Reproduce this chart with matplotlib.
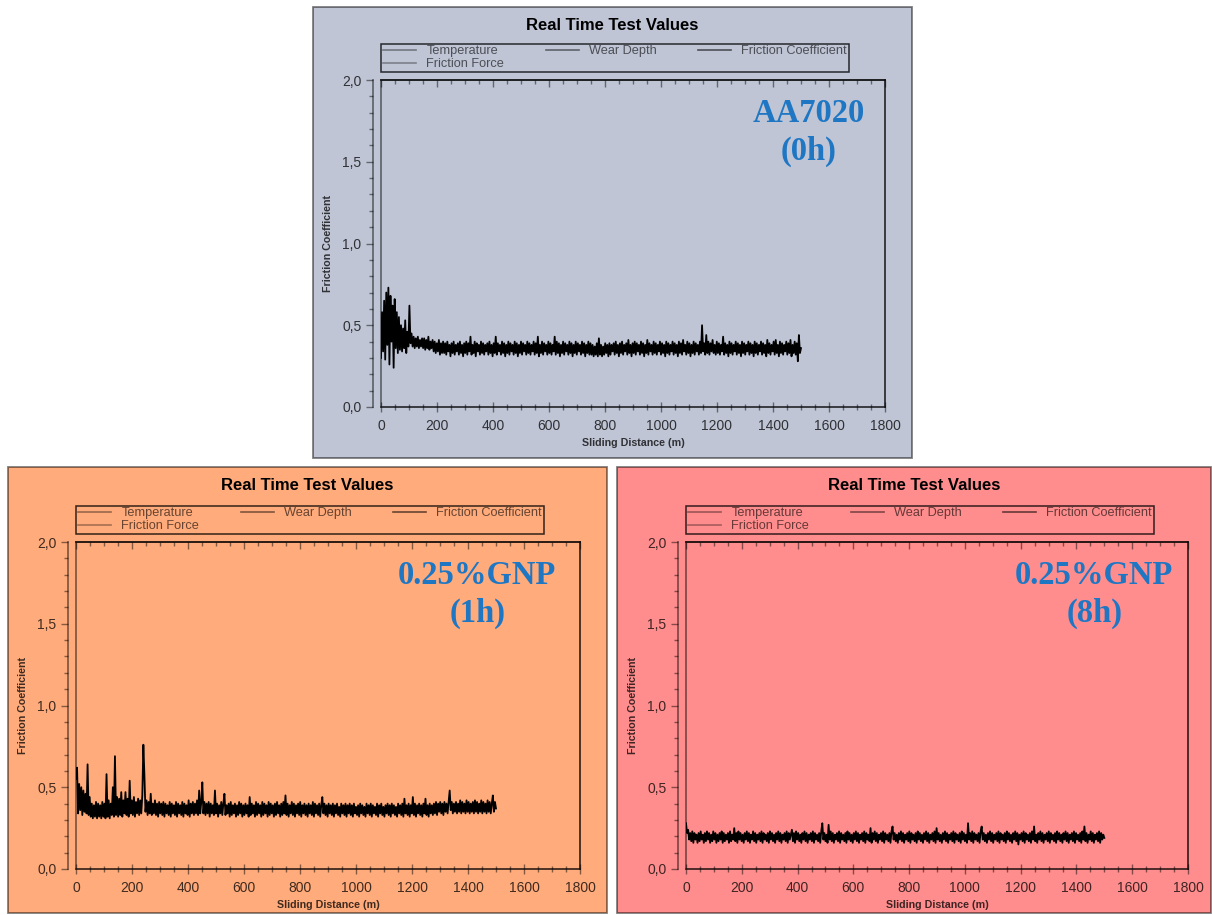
import matplotlib
matplotlib.use('Agg')
import matplotlib.pyplot as plt
from matplotlib.lines import Line2D
from matplotlib.patches import Rectangle
from matplotlib.ticker import MultipleLocator
import numpy as np

plt.rcParams['font.family'] = ['Liberation Sans', 'DejaVu Sans']

W, H = 1212, 915

x_ticks = [0, 200, 400, 600, 800, 1000, 1200, 1400, 1600, 1800]
y_ticks = [0.0, 0.5, 1.0, 1.5, 2.0]
y_tick_labels = ['0,0', '0,5', '1,0', '1,5', '2,0']
legend_labels = ['Temperature', 'Friction Force', 'Wear Depth', 'Friction Coefficient']
legend_greys = [(0, 0, 0, 0.4), (0, 0, 0, 0.35), (0, 0, 0, 0.5), (0, 0, 0, 0.6)]
panel_names = ['AA7020\n(0h)', '0.25%GNP\n(1h)', '0.25%GNP\n(8h)']
panel_colors = ['#bfc5d5', '#ffab7b', '#ff8d8d']
test_length = 1500  # m

# friction coefficient (equal steps of sliding distance)
cof_aa7020 = [
    0.30, 0.58, 0.34, 0.65, 0.29, 0.70, 0.38, 0.73, 0.26, 0.68, 0.40, 0.62, 0.24, 0.66, 0.36, 0.58, 0.33, 0.55, 0.35, 0.50,
    0.34, 0.48, 0.36, 0.53, 0.33, 0.46, 0.37, 0.62, 0.39, 0.45, 0.37, 0.43, 0.36, 0.42, 0.37, 0.43, 0.36, 0.41, 0.37, 0.42,
    0.36, 0.42, 0.35, 0.41, 0.36, 0.43, 0.35, 0.40, 0.36, 0.41, 0.34, 0.40, 0.33, 0.39, 0.34, 0.41, 0.32, 0.39, 0.33, 0.40,
    0.33, 0.39, 0.32, 0.40, 0.34, 0.38, 0.31, 0.39, 0.33, 0.40, 0.32, 0.38, 0.34, 0.39, 0.32, 0.40, 0.33, 0.38, 0.31, 0.39,
    0.33, 0.40, 0.32, 0.39, 0.34, 0.43, 0.32, 0.38, 0.33, 0.40, 0.31, 0.39, 0.34, 0.38, 0.32, 0.40, 0.33, 0.39, 0.32, 0.38,
    0.34, 0.39, 0.32, 0.40, 0.33, 0.38, 0.31, 0.39, 0.33, 0.43, 0.32, 0.39, 0.34, 0.38, 0.32, 0.40, 0.33, 0.39, 0.31, 0.38,
    0.33, 0.40, 0.32, 0.39, 0.34, 0.38, 0.32, 0.40, 0.33, 0.39, 0.31, 0.38, 0.33, 0.40, 0.32, 0.39, 0.34, 0.38, 0.32, 0.40,
    0.33, 0.39, 0.32, 0.38, 0.34, 0.40, 0.32, 0.39, 0.33, 0.43, 0.31, 0.38, 0.33, 0.40, 0.32, 0.39, 0.34, 0.38, 0.32, 0.40,
    0.33, 0.39, 0.32, 0.38, 0.34, 0.43, 0.32, 0.40, 0.33, 0.39, 0.31, 0.38, 0.33, 0.40, 0.32, 0.39, 0.34, 0.38, 0.32, 0.40,
    0.33, 0.39, 0.31, 0.38, 0.33, 0.40, 0.32, 0.39, 0.34, 0.38, 0.32, 0.40, 0.33, 0.39, 0.31, 0.38, 0.33, 0.40, 0.32, 0.39,
    0.32, 0.38, 0.31, 0.37, 0.32, 0.39, 0.31, 0.42, 0.32, 0.38, 0.31, 0.37, 0.32, 0.39, 0.33, 0.38, 0.31, 0.39, 0.32, 0.38,
    0.34, 0.39, 0.32, 0.40, 0.33, 0.38, 0.31, 0.39, 0.33, 0.40, 0.32, 0.38, 0.34, 0.39, 0.32, 0.41, 0.33, 0.38, 0.31, 0.39,
    0.33, 0.40, 0.32, 0.39, 0.34, 0.38, 0.32, 0.40, 0.33, 0.39, 0.31, 0.38, 0.33, 0.41, 0.32, 0.39, 0.34, 0.38, 0.32, 0.40,
    0.33, 0.39, 0.32, 0.38, 0.34, 0.40, 0.32, 0.39, 0.33, 0.38, 0.31, 0.40, 0.33, 0.39, 0.32, 0.38, 0.34, 0.40, 0.32, 0.39,
    0.33, 0.38, 0.31, 0.40, 0.33, 0.39, 0.32, 0.41, 0.34, 0.38, 0.32, 0.40, 0.33, 0.39, 0.31, 0.38, 0.33, 0.40, 0.32, 0.39,
    0.34, 0.38, 0.32, 0.40, 0.33, 0.50, 0.34, 0.39, 0.32, 0.44, 0.33, 0.40, 0.32, 0.39, 0.34, 0.41, 0.33, 0.38, 0.32, 0.40,
    0.33, 0.39, 0.32, 0.38, 0.34, 0.43, 0.32, 0.39, 0.33, 0.38, 0.31, 0.40, 0.33, 0.39, 0.32, 0.38, 0.34, 0.40, 0.32, 0.39,
    0.33, 0.38, 0.31, 0.40, 0.33, 0.39, 0.32, 0.38, 0.34, 0.40, 0.32, 0.39, 0.33, 0.38, 0.31, 0.40, 0.33, 0.39, 0.32, 0.38,
    0.34, 0.40, 0.32, 0.39, 0.33, 0.38, 0.31, 0.41, 0.33, 0.39, 0.32, 0.38, 0.34, 0.40, 0.32, 0.41, 0.33, 0.38, 0.31, 0.40,
    0.33, 0.39, 0.32, 0.38, 0.34, 0.40, 0.32, 0.39, 0.33, 0.41, 0.31, 0.38, 0.33, 0.40, 0.32, 0.39, 0.28, 0.44, 0.33, 0.36,
]

cof_gnp_1h = [
    0.55, 0.62, 0.34, 0.52, 0.36, 0.50, 0.33, 0.48, 0.35, 0.46, 0.34, 0.64, 0.33, 0.44, 0.32, 0.40, 0.31, 0.39, 0.32, 0.41,
    0.31, 0.40, 0.32, 0.39, 0.31, 0.41, 0.32, 0.40, 0.31, 0.58, 0.32, 0.42, 0.31, 0.40, 0.33, 0.50, 0.32, 0.69, 0.33, 0.44,
    0.32, 0.43, 0.33, 0.47, 0.32, 0.42, 0.34, 0.47, 0.33, 0.43, 0.32, 0.54, 0.34, 0.42, 0.33, 0.44, 0.32, 0.41, 0.34, 0.43,
    0.33, 0.42, 0.34, 0.45, 0.76, 0.57, 0.35, 0.42, 0.33, 0.41, 0.34, 0.46, 0.33, 0.40, 0.34, 0.42, 0.33, 0.40, 0.32, 0.41,
    0.34, 0.40, 0.33, 0.41, 0.32, 0.40, 0.34, 0.39, 0.33, 0.41, 0.32, 0.40, 0.34, 0.39, 0.33, 0.41, 0.32, 0.40, 0.34, 0.39,
    0.33, 0.41, 0.32, 0.40, 0.34, 0.39, 0.33, 0.42, 0.32, 0.40, 0.34, 0.41, 0.33, 0.40, 0.34, 0.42, 0.33, 0.48, 0.34, 0.41,
    0.53, 0.34, 0.41, 0.33, 0.40, 0.34, 0.41, 0.32, 0.40, 0.34, 0.39, 0.33, 0.48, 0.34, 0.40, 0.32, 0.39, 0.34, 0.41, 0.33,
    0.40, 0.46, 0.33, 0.39, 0.34, 0.40, 0.32, 0.41, 0.33, 0.39, 0.34, 0.40, 0.32, 0.39, 0.33, 0.41, 0.34, 0.40, 0.32, 0.39,
    0.33, 0.40, 0.34, 0.39, 0.32, 0.44, 0.33, 0.40, 0.34, 0.39, 0.32, 0.41, 0.33, 0.40, 0.34, 0.39, 0.32, 0.41, 0.33, 0.40,
    0.34, 0.39, 0.32, 0.41, 0.33, 0.40, 0.34, 0.39, 0.32, 0.40, 0.33, 0.41, 0.34, 0.39, 0.32, 0.40, 0.33, 0.41, 0.34, 0.45,
    0.33, 0.40, 0.32, 0.39, 0.34, 0.41, 0.33, 0.40, 0.32, 0.39, 0.34, 0.40, 0.33, 0.41, 0.32, 0.39, 0.34, 0.40, 0.33, 0.39,
    0.32, 0.40, 0.34, 0.39, 0.33, 0.41, 0.32, 0.40, 0.34, 0.39, 0.33, 0.40, 0.32, 0.39, 0.44, 0.34, 0.40, 0.33, 0.39, 0.32,
    0.40, 0.34, 0.39, 0.33, 0.40, 0.32, 0.39, 0.34, 0.40, 0.33, 0.38, 0.32, 0.40, 0.34, 0.39, 0.33, 0.40, 0.32, 0.39, 0.34,
    0.40, 0.33, 0.39, 0.32, 0.40, 0.34, 0.38, 0.33, 0.39, 0.32, 0.40, 0.34, 0.39, 0.33, 0.38, 0.32, 0.40, 0.34, 0.39, 0.33,
    0.40, 0.32, 0.39, 0.34, 0.38, 0.33, 0.40, 0.32, 0.39, 0.34, 0.40, 0.33, 0.38, 0.32, 0.39, 0.34, 0.40, 0.33, 0.39, 0.32,
    0.40, 0.34, 0.39, 0.33, 0.38, 0.32, 0.40, 0.34, 0.39, 0.33, 0.40, 0.32, 0.43, 0.34, 0.39, 0.33, 0.40, 0.32, 0.39, 0.34,
    0.44, 0.33, 0.40, 0.32, 0.39, 0.34, 0.40, 0.33, 0.39, 0.32, 0.40, 0.34, 0.43, 0.33, 0.39, 0.32, 0.40, 0.34, 0.39, 0.33,
    0.40, 0.34, 0.41, 0.33, 0.40, 0.35, 0.41, 0.34, 0.40, 0.33, 0.41, 0.35, 0.40, 0.34, 0.41, 0.48, 0.36, 0.41, 0.34, 0.40,
    0.35, 0.41, 0.34, 0.40, 0.35, 0.42, 0.34, 0.41, 0.35, 0.40, 0.34, 0.42, 0.35, 0.41, 0.34, 0.40, 0.35, 0.41, 0.34, 0.42,
    0.35, 0.41, 0.34, 0.40, 0.35, 0.42, 0.34, 0.41, 0.35, 0.40, 0.34, 0.42, 0.35, 0.41, 0.34, 0.40, 0.45, 0.35, 0.41, 0.37,
]

cof_gnp_8h = [
    0.28, 0.22, 0.24, 0.18, 0.22, 0.17, 0.23, 0.16, 0.22, 0.18, 0.21, 0.16, 0.22, 0.17, 0.23, 0.18, 0.21, 0.16, 0.22, 0.17,
    0.23, 0.18, 0.22, 0.16, 0.21, 0.17, 0.23, 0.18, 0.22, 0.16, 0.21, 0.17, 0.22, 0.18, 0.23, 0.16, 0.22, 0.17, 0.21, 0.18,
    0.22, 0.16, 0.23, 0.17, 0.21, 0.18, 0.25, 0.17, 0.22, 0.16, 0.23, 0.18, 0.22, 0.17, 0.21, 0.16, 0.22, 0.18, 0.23, 0.17,
    0.22, 0.16, 0.21, 0.18, 0.23, 0.17, 0.22, 0.16, 0.21, 0.18, 0.22, 0.17, 0.23, 0.16, 0.22, 0.18, 0.21, 0.17, 0.22, 0.16,
    0.23, 0.18, 0.22, 0.17, 0.21, 0.16, 0.22, 0.18, 0.23, 0.17, 0.22, 0.16, 0.21, 0.18, 0.22, 0.17, 0.23, 0.16, 0.22, 0.18,
    0.21, 0.24, 0.17, 0.22, 0.16, 0.23, 0.18, 0.22, 0.17, 0.21, 0.16, 0.22, 0.18, 0.23, 0.17, 0.22, 0.16, 0.21, 0.18, 0.22,
    0.17, 0.23, 0.16, 0.22, 0.18, 0.21, 0.17, 0.22, 0.16, 0.23, 0.28, 0.18, 0.22, 0.17, 0.21, 0.16, 0.27, 0.18, 0.23, 0.17,
    0.22, 0.16, 0.21, 0.18, 0.22, 0.17, 0.23, 0.16, 0.22, 0.18, 0.21, 0.17, 0.22, 0.16, 0.23, 0.18, 0.22, 0.17, 0.21, 0.16,
    0.22, 0.18, 0.23, 0.17, 0.22, 0.16, 0.21, 0.18, 0.22, 0.17, 0.23, 0.16, 0.22, 0.18, 0.21, 0.17, 0.25, 0.16, 0.22, 0.18,
    0.23, 0.17, 0.22, 0.16, 0.21, 0.18, 0.22, 0.17, 0.23, 0.16, 0.22, 0.18, 0.21, 0.17, 0.22, 0.16, 0.23, 0.26, 0.18, 0.22,
    0.17, 0.21, 0.16, 0.22, 0.18, 0.23, 0.17, 0.22, 0.16, 0.21, 0.18, 0.22, 0.17, 0.23, 0.16, 0.22, 0.18, 0.21, 0.17, 0.22,
    0.16, 0.23, 0.18, 0.22, 0.17, 0.21, 0.16, 0.22, 0.18, 0.23, 0.17, 0.22, 0.16, 0.21, 0.18, 0.22, 0.17, 0.23, 0.16, 0.25,
    0.18, 0.22, 0.17, 0.21, 0.16, 0.22, 0.18, 0.23, 0.17, 0.22, 0.16, 0.21, 0.18, 0.22, 0.17, 0.23, 0.16, 0.22, 0.18, 0.21,
    0.17, 0.22, 0.16, 0.23, 0.18, 0.22, 0.17, 0.21, 0.16, 0.28, 0.18, 0.22, 0.17, 0.23, 0.16, 0.22, 0.18, 0.21, 0.17, 0.22,
    0.16, 0.23, 0.26, 0.18, 0.22, 0.17, 0.21, 0.16, 0.22, 0.18, 0.23, 0.17, 0.22, 0.16, 0.21, 0.18, 0.22, 0.17, 0.23, 0.16,
    0.22, 0.18, 0.21, 0.17, 0.22, 0.16, 0.23, 0.18, 0.22, 0.17, 0.21, 0.16, 0.22, 0.18, 0.23, 0.17, 0.22, 0.15, 0.21, 0.18,
    0.22, 0.17, 0.23, 0.16, 0.22, 0.18, 0.21, 0.17, 0.22, 0.16, 0.23, 0.18, 0.26, 0.17, 0.21, 0.16, 0.22, 0.18, 0.23, 0.17,
    0.22, 0.16, 0.21, 0.18, 0.22, 0.17, 0.23, 0.16, 0.22, 0.18, 0.21, 0.17, 0.22, 0.16, 0.23, 0.18, 0.22, 0.17, 0.21, 0.16,
    0.22, 0.18, 0.23, 0.17, 0.22, 0.16, 0.21, 0.18, 0.22, 0.17, 0.23, 0.16, 0.22, 0.18, 0.21, 0.17, 0.22, 0.16, 0.23, 0.18,
    0.26, 0.17, 0.22, 0.16, 0.21, 0.18, 0.23, 0.17, 0.22, 0.16, 0.21, 0.18, 0.22, 0.17, 0.23, 0.16, 0.22, 0.18, 0.21, 0.19,
]

# pixel boxes (left, top, right, bottom) of each panel and its plot frame
panels = [
    dict(panel=(313, 7, 912, 458), axes=(381, 80, 885, 407), note_x=0.849, cof=cof_aa7020),
    dict(panel=(8, 467, 607, 913), axes=(76, 542, 580, 869), note_x=0.796, cof=cof_gnp_1h),
    dict(panel=(617, 467, 1211, 913), axes=(686, 542, 1188, 869), note_x=0.813, cof=cof_gnp_8h),
]

frame_col = (0, 0, 0, 0.48)
text_col = (0, 0, 0, 0.75)


def fig_rect(l, t, r, b):
    return [l / W, 1 - b / H, (r - l) / W, (b - t) / H]


fig = plt.figure(figsize=(W / 100, H / 100), dpi=100)
fig.patch.set_facecolor('white')

for i, p in enumerate(panels):
    l, t, r, b = p['panel']
    fig.add_artist(Rectangle((l / W, 1 - b / H), (r - l) / W, (b - t) / H,
                             transform=fig.transFigure, facecolor=panel_colors[i],
                             edgecolor=(0, 0, 0, 0.5), lw=1.3, zorder=-5))
    fig.text((l + r) / 2 / W, 1 - (t + 19) / H, 'Real Time Test Values',
             ha='center', va='center', fontsize=12, fontweight='bold')

    al, at, ar, ab = p['axes']
    aw, ah = ar - al, ab - at
    ax = fig.add_axes(fig_rect(al, at, ar, ab))
    ax.set_facecolor(panel_colors[i])
    ax.patch.set_edgecolor(frame_col)
    ax.patch.set_linewidth(1.3)

    cof = p['cof']
    distance = np.linspace(0, test_length, len(cof))
    ax.plot(distance, cof, color='black', lw=1.3)

    ax.set_xlim(0, 1800)
    ax.set_ylim(0, 2.0)
    ax.set_xticks(x_ticks)
    ax.set_yticks(y_ticks)
    ax.set_yticklabels(y_tick_labels)
    ax.xaxis.set_minor_locator(MultipleLocator(50))
    ax.yaxis.set_minor_locator(MultipleLocator(0.1))

    for s in ['top', 'right', 'bottom', 'left']:
        ax.spines[s].set_color(frame_col)
        ax.spines[s].set_linewidth(1.3)
    ax.spines['left'].set_position(('outward', 6))
    ax.spines['left'].set_bounds(0, 2.0)

    ax.tick_params(axis='x', which='major', direction='inout', length=7, width=1,
                   color=frame_col, labelsize=10, labelcolor=text_col, pad=5)
    ax.tick_params(axis='x', which='minor', direction='inout', length=4, width=1,
                   color=frame_col)
    ax.tick_params(axis='y', which='major', direction='out', length=5, width=1,
                   color=frame_col, labelsize=10, labelcolor=text_col, pad=3)
    ax.tick_params(axis='y', which='minor', direction='out', length=3, width=1,
                   color=frame_col)

    top = ax.secondary_xaxis('top')
    top.set_xticks(x_ticks)
    top.xaxis.set_minor_locator(MultipleLocator(50))
    top.tick_params(which='major', direction='in', length=5, width=1, color=frame_col, labeltop=False)
    top.tick_params(which='minor', direction='in', length=3, width=1, color=frame_col)
    top.spines['top'].set_color(frame_col)
    top.spines['top'].set_linewidth(1.3)

    ax.set_xlabel('Sliding Distance (m)', fontsize=7.7, fontweight='bold', color=text_col)
    ax.xaxis.set_label_coords(0.5, -31 / ah)
    ax.set_ylabel('Friction Coefficient', fontsize=7.7, fontweight='bold', color=text_col)
    ax.yaxis.set_label_coords(-48 / aw, 0.5)

    handles = [Line2D([], [], color=c, lw=1.2) for c in legend_greys]
    leg = ax.legend(handles, legend_labels, ncol=3, loc='lower left',
                    bbox_to_anchor=(0, 1 + 8 / ah, 468 / aw, 28 / ah), mode='expand',
                    borderaxespad=0, fontsize=9.2, frameon=True, fancybox=False,
                    edgecolor=frame_col, facecolor='none', handlelength=2.6,
                    handletextpad=0.8, labelspacing=0.05, borderpad=0.15)
    leg.get_frame().set_linewidth(1.1)
    for txt in leg.get_texts():
        txt.set_color((0, 0, 0, 0.6))

    ax.text(p['note_x'], 0.84, panel_names[i], transform=ax.transAxes,
            ha='center', va='center', fontsize=23.5, fontweight='bold',
            family='Liberation Serif', color='#1f77c4', linespacing=1.3)

fig.savefig('out.png', dpi=100)
